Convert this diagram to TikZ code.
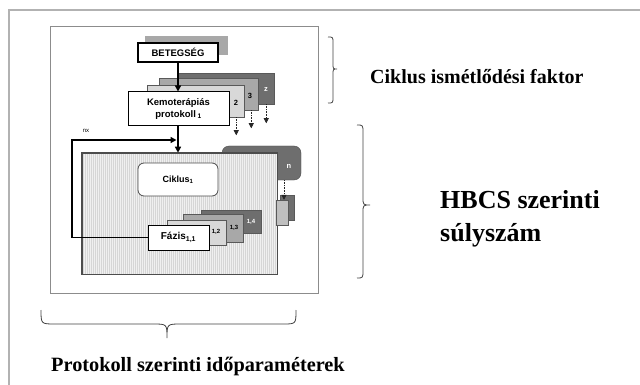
\documentclass[tikz,border=0pt]{standalone}
\usepackage{fontspec}
\setmainfont{Liberation Serif}
\setsansfont{Liberation Sans}
\usetikzlibrary{arrows.meta}
\definecolor{lgray}{HTML}{D8D8D8}
\definecolor{mgray}{HTML}{A8A8A8}
\definecolor{dgray}{HTML}{6E6E6E}
\begin{document}
\begin{tikzpicture}[x=1pt,y=-1pt,
  bx/.style={draw=black, line width=1pt, fill=white, inner sep=0pt, align=center, font=\sffamily\bfseries},
  stk/.style={draw=black!65, line width=0.5pt, inner sep=0pt},
  lab/.style={font=\sffamily\bfseries\fontsize{7.5}{8}\selectfont, inner sep=0pt},
  slab/.style={font=\sffamily\bfseries\fontsize{6}{7}\selectfont, inner sep=0pt},
  thk/.style={line width=1.5pt, -{Triangle[length=6pt,width=6pt]}},
  dotarr/.style={densely dotted, line width=0.6pt, black!85, -{Triangle[length=5pt,width=5pt]}},
  bigtxt/.style={font=\bfseries\fontsize{20}{24}\selectfont, inner sep=0pt, anchor=west},
  bracepath/.style={draw=black!75, line width=0.8pt}
]
\useasboundingbox (0,0) rectangle (640,385);
% frames
\draw[black!30, line width=2pt] (9,385) -- (9,10) -- (640,10);
\draw[black!45, line width=0.8pt] (50,26) rectangle (318,293);

% BETEGSEG
\node[fill=mgray, inner sep=0pt, minimum width=83pt, minimum height=19pt] (betsh) at (186.5,45.5) {};
\node[bx, line width=1.2pt, minimum width=80pt, minimum height=19pt, font=\sffamily\bfseries\fontsize{9.5}{11}\selectfont] (bet) at (178,52.5) {BETEGSÉG};

% protocol stack
\node[stk, fill=dgray, minimum width=96pt, minimum height=31pt] (bz) at (226,88.5) {};
\node[stk, fill=mgray, minimum width=99pt, minimum height=32pt] (b3) at (208.5,94) {};
\node[stk, fill=lgray, minimum width=97pt, minimum height=32pt] (b2) at (195.5,101) {};
\node[lab, text=white] (lz) at (266,90) {z};
\node[lab] (l3) at (250,96) {3};
\node[lab] (l2) at (236,103) {2};
\node[bx, minimum width=101pt, minimum height=34pt, font=\sffamily\bfseries\fontsize{9.5}{12}\selectfont] (kemo) at (178.5,109) {Kemoterápiás\\protokoll\,\textsubscript{1}};
\draw[dotarr] ([xshift=-8pt]b2.south east) -- ++(0,18);
\draw[dotarr] ([xshift=-7pt]b3.south east) -- ++(0,18);
\draw[dotarr] ([xshift=-8pt]bz.south east) -- ++(0,19);

% n box and big rectangle
\node[draw=black!70, fill=dgray, rounded corners=7pt, minimum width=79pt, minimum height=34pt, inner sep=0pt] (nb) at (261.5,163) {};
\node[lab, text=white] (ln) at (289,166) {n};
\node[draw=black!70, line width=0.6pt, fill=black!6, minimum width=195pt, minimum height=121pt, inner sep=0pt] (big) at (179.5,213.5) {};
\foreach \i in {0,...,96} \draw[black!16, line width=0.6pt] (83+2*\i,154) -- ++(0,119.5);
\draw[draw=black!70, line width=0.6pt] (big.north west) rectangle (big.south east);
\node[stk, fill=dgray, minimum width=14pt, minimum height=25pt] (sd) at (287,207.5) {};
\node[stk, fill=black!25, minimum width=12pt, minimum height=25pt] (sl) at (282,212.5) {};
\draw[dotarr] ([xshift=22.5pt]nb.south) -- ([xshift=2pt]sl.north);

% Ciklus
\node[draw=black!70, line width=0.8pt, fill=white, rounded corners=6pt, minimum width=80pt, minimum height=33pt, inner sep=0pt, font=\sffamily\bfseries\fontsize{9}{11}\selectfont] (cik) at (178,179.5) {Ciklus\textsubscript{1}};

% phase stack
\node[stk, fill=dgray, minimum width=60pt, minimum height=23pt] (f4) at (231,221.5) {};
\node[stk, fill=mgray, minimum width=60pt, minimum height=28pt] (f3) at (213,228) {};
\node[stk, fill=lgray, minimum width=59pt, minimum height=25pt] (f2) at (196.5,232.5) {};
\node[slab, text=white] (l14) at (251,222) {1,4};
\node[slab] (l13) at (234,228) {1,3};
\node[slab] (l12) at (216,232) {1,2};
\node[bx, line width=0.8pt, minimum width=61pt, minimum height=25pt, font=\sffamily\bfseries\fontsize{10}{12}\selectfont] (faz) at (178.5,237.5) {Fázis\textsubscript{1,1}};

% main arrows
\draw[thk] (bet.south) -- (bet.south |- kemo.north);
\draw[thk] (kemo.south -| bet.south) -- (bet.south |- big.north);
\coordinate (fbc) at (72,140);
\coordinate (fbt) at (176.5,140);
\draw[thk] (faz.west) -| (fbc) -- (fbt);
\node[font=\sffamily\fontsize{6}{7}\selectfont, inner sep=0pt] (nx) at (86,131) {nx};

% braces
\draw[bracepath] (328,37) .. controls (333,37) .. (333,43) -- (333,63) .. controls (333,69) .. (337,69) .. controls (333,69) .. (333,75) -- (333,97) .. controls (333,103) .. (328,103);
\draw[bracepath] (357,125) .. controls (363,125) .. (363,133) -- (363,197) .. controls (363,205) .. (370,205) .. controls (363,205) .. (363,213) -- (363,270) .. controls (363,278) .. (357,278);
\draw[bracepath] (41,310) .. controls (41,324) .. (55,324) -- (153,324) .. controls (167,324) .. (167,338) .. controls (167,324) .. (181,324) -- (283,324) .. controls (296,324) .. (296,310);

% texts
\node[bigtxt] (t1) at (370,77) {Ciklus ismétlődési faktor};
\node[bigtxt, font=\bfseries\fontsize{26}{33}\selectfont, align=left] (t2) at (440,218.5) {HBCS szerinti\\súlyszám};
\node[bigtxt, font=\bfseries\fontsize{20.3}{24}\selectfont] (t3) at (51,367) {Protokoll szerinti időparaméterek};
\end{tikzpicture}
\end{document}
